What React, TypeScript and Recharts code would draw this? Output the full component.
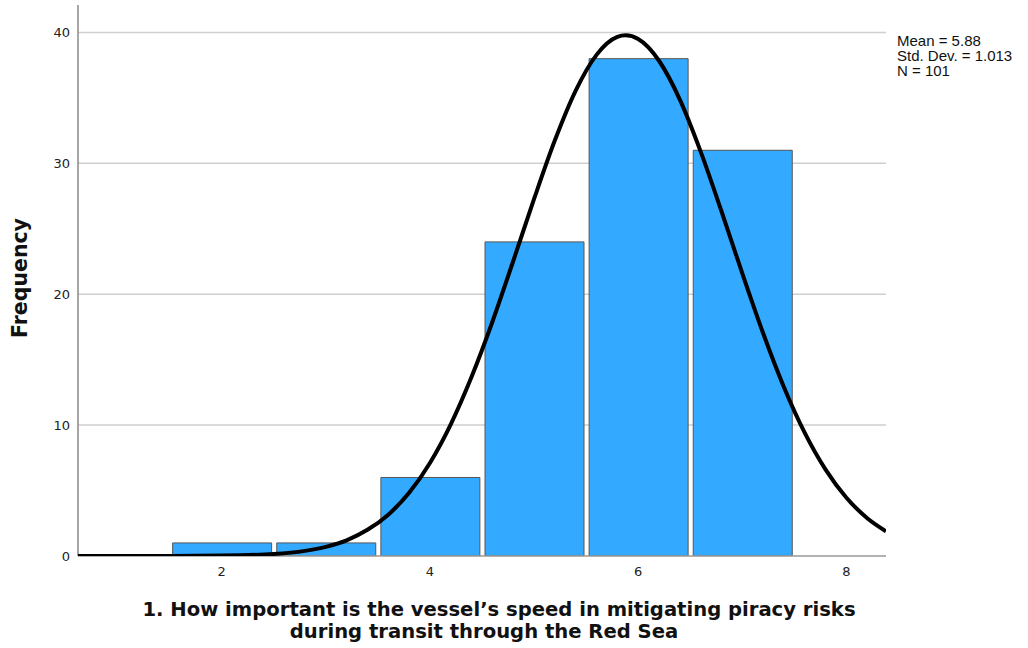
import { BarChart, Bar, LineChart, Line, XAxis, YAxis, CartesianGrid } from 'recharts'

// response counts per scale point
const scalePoints = [2, 3, 4, 5, 6, 7]
const frequencies = [1, 1, 6, 24, 38, 31]

// fitted normal curve, sampled along the x range
const curveX = [
  0.62, 1.0, 1.5, 2.0, 2.5, 2.8, 3.0, 3.2, 3.4, 3.6, 3.8, 4.0, 4.2, 4.4, 4.6, 4.8, 5.0, 5.2, 5.4, 5.6,
  5.8, 5.88, 6.0, 6.2, 6.4, 6.6, 6.8, 7.0, 7.2, 7.4, 7.6, 7.8, 8.0, 8.2, 8.38,
]
const curveY = [
  0.0, 0.0, 0.0, 0.03, 0.15, 0.39, 0.7, 1.2, 2.0, 3.16, 4.83, 7.11, 10.06, 13.69, 17.9, 22.54, 27.28,
  31.76, 35.56, 38.29, 39.66, 39.78, 39.5, 37.84, 34.87, 30.9, 26.34, 21.59, 17.02, 12.9, 9.41, 6.6,
  4.45, 2.89, 1.89,
]

const xTicks = [2, 4, 6, 8]
const yTicks = [0, 10, 20, 30, 40]
const statLines = ['Mean = 5.88', 'Std. Dev. = 1.013', 'N = 101']

const X_DOMAIN: [number, number] = [0.62, 8.38]
const Y_DOMAIN: [number, number] = [0, 42.1]
const W = 1028
const H = 648
const MARGIN = { top: 5, right: 142, bottom: 0, left: 0 }
const tickFont = { fill: '#222', fontSize: 13, fontFamily: 'DejaVu Sans' }

const barData = scalePoints.map((x, i) => ({ x, count: frequencies[i] }))
const curveData = curveX.map((x, i) => ({ x, density: curveY[i] }))

export default function App() {
  return (
    <div style={{ position: 'absolute', left: 0, top: 0, width: W, height: H, background: '#fff' }}>
      <BarChart width={W} height={H} data={barData} margin={MARGIN}>
        <CartesianGrid vertical={false} horizontalValues={[10, 20, 30, 40]} stroke="#cfcfcf" strokeWidth={1.5} />
        <XAxis
          dataKey="x"
          type="number"
          domain={X_DOMAIN}
          ticks={xTicks}
          allowDataOverflow
          height={92}
          tickLine={false}
          axisLine={{ stroke: '#999', strokeWidth: 1.5 }}
          tick={tickFont}
          tickMargin={5}
        />
        <YAxis
          type="number"
          domain={Y_DOMAIN}
          ticks={yTicks}
          allowDataOverflow
          width={78}
          tickLine={false}
          axisLine={{ stroke: '#888', strokeWidth: 1.5 }}
          tick={tickFont}
          tickMargin={2}
        />
        <Bar dataKey="count" barSize={99} fill="#33aaff" stroke="#555" strokeWidth={1} isAnimationActive={false} />
      </BarChart>
      {/* normal curve drawn on a transparent overlay with the same plot area */}
      <div style={{ position: 'absolute', left: 0, top: 0 }}>
        <LineChart width={W} height={H} data={curveData} margin={MARGIN}>
          <XAxis dataKey="x" type="number" domain={X_DOMAIN} allowDataOverflow height={92} tick={false} axisLine={false} tickLine={false} />
          <YAxis type="number" domain={Y_DOMAIN} allowDataOverflow width={78} tick={false} axisLine={false} tickLine={false} />
          <Line
            dataKey="density"
            type="monotone"
            stroke="#000"
            strokeWidth={4}
            dot={false}
            isAnimationActive={false}
          />
        </LineChart>
      </div>
      <svg width={W} height={H} style={{ position: 'absolute', left: 0, top: 0, pointerEvents: 'none' }}>
        {statLines.map((s, i) => (
          <text key={s} x={897} y={46 + i * 15} fontSize={15} fontFamily="Liberation Sans" fill="#111">
            {s}
          </text>
        ))}
        <text
          transform="translate(27, 278) rotate(-90)"
          textAnchor="middle"
          fontSize={20.5}
          fontWeight="bold"
          fontFamily="DejaVu Sans"
          fill="#111"
        >
          Frequency
        </text>
        <text x={499} y={616} textAnchor="middle" fontSize={19.6} fontWeight="bold" fontFamily="DejaVu Sans" fill="#111">
          1. How important is the vessel’s speed in mitigating piracy risks
        </text>
        <text x={484} y={638} textAnchor="middle" fontSize={19.6} fontWeight="bold" fontFamily="DejaVu Sans" fill="#111">
          during transit through the Red Sea
        </text>
      </svg>
    </div>
  )
}
